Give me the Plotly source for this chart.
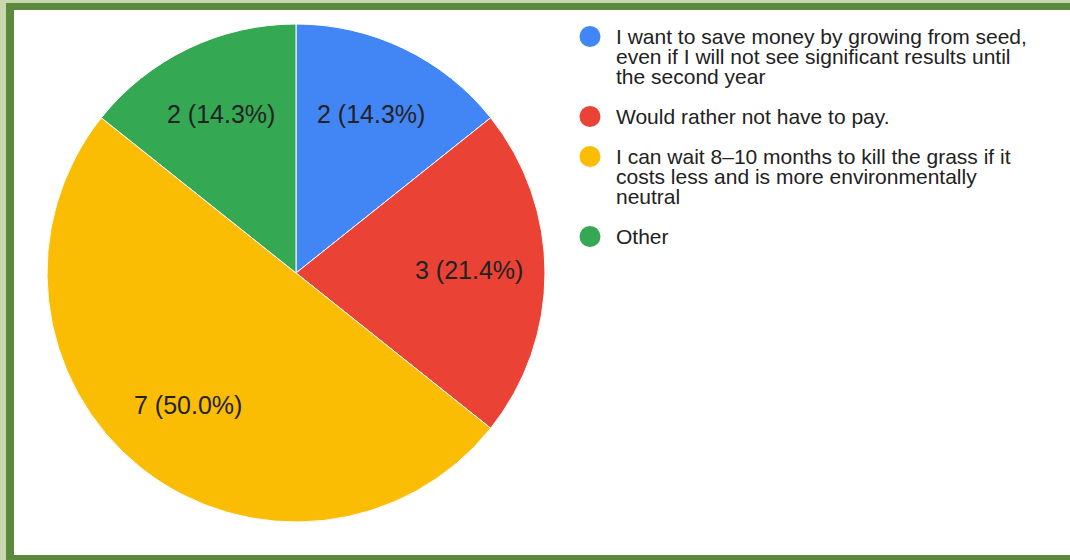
import math
import plotly.graph_objects as go

# Survey answers (clockwise from 12 o'clock)
labels = [
    "I want to save money by growing from seed, even if I will not see significant results until the second year",
    "Would rather not have to pay.",
    "I can wait 8\u201310 months to kill the grass if it costs less and is more environmentally neutral",
    "Other",
]
legend_lines = [
    ["I want to save money by growing from seed,",
     "even if I will not see significant results until",
     "the second year"],
    ["Would rather not have to pay."],
    ["I can wait 8\u201310 months to kill the grass if it",
     "costs less and is more environmentally",
     "neutral"],
    ["Other"],
]
counts = [2, 3, 7, 2]
colors = ["#4285F4", "#EA4335", "#FBBC04", "#34A853"]

W, H = 1070, 560
FONT = "Liberation Sans, Arial, sans-serif"
TEXT = "#222222"

# pie geometry in pixels
cx, cy, R = 296, 273, 249


def px(x):
    return x / W


def py(y):
    return 1 - y / H


fig = go.Figure(
    go.Pie(
        labels=labels,
        values=counts,
        marker=dict(colors=colors, line=dict(color="white", width=1)),
        sort=False,
        direction="clockwise",
        rotation=0,
        textinfo="none",
        hoverinfo="label+value+percent",
        showlegend=False,
        domain=dict(x=[px(cx - R), px(cx + R)], y=[py(cy + R), py(cy - R)]),
    )
)

annotations = []
shapes = []

# slice labels along each slice's bisector
total = sum(counts)
start = 0.0
for v in counts:
    mid = (start + v / 2) / total * 2 * math.pi
    start += v
    lx = cx + 0.695 * R * math.sin(mid)
    ly = cy - 0.695 * R * math.cos(mid)
    annotations.append(dict(
        x=px(lx), y=py(ly), xref="paper", yref="paper",
        text=f"{v} ({v / total * 100:.1f}%)", showarrow=False,
        font=dict(family=FONT, size=25, color=TEXT),
        xanchor="center", yanchor="middle", yshift=3,
    ))

# legend: round swatches with tightly spaced lines
leg_y = 36.5
line_h = 20
for col, lines in zip(colors, legend_lines):
    shapes.append(dict(
        type="circle", xref="paper", yref="paper",
        x0=px(590 - 10.5), x1=px(590 + 10.5),
        y0=py(leg_y + 10.5), y1=py(leg_y - 10.5),
        fillcolor=col, line=dict(width=0), layer="above",
    ))
    for i, ln in enumerate(lines):
        annotations.append(dict(
            x=px(614), y=py(leg_y + i * line_h), xref="paper", yref="paper",
            text=ln, showarrow=False,
            font=dict(family=FONT, size=21, color=TEXT),
            xanchor="left", yanchor="middle",
        ))
    leg_y += (len(lines) - 1) * line_h + 40

# green frame around the white card
shapes.insert(0, dict(type="rect", xref="paper", yref="paper",
                      x0=px(6), x1=1.01, y0=-0.01, y1=py(3),
                      fillcolor="#5b8a3c", line=dict(width=0), layer="below"))
shapes.insert(1, dict(type="rect", xref="paper", yref="paper",
                      x0=px(14), x1=1.01, y0=py(555), y1=py(10),
                      fillcolor="white", line=dict(width=0), layer="below"))

fig.update_layout(
    width=W, height=H,
    margin=dict(l=0, r=0, t=0, b=0),
    paper_bgcolor="#c8d7b0",
    font=dict(family=FONT, color=TEXT),
    shapes=shapes,
    annotations=annotations,
)

fig.write_html("out.html")
